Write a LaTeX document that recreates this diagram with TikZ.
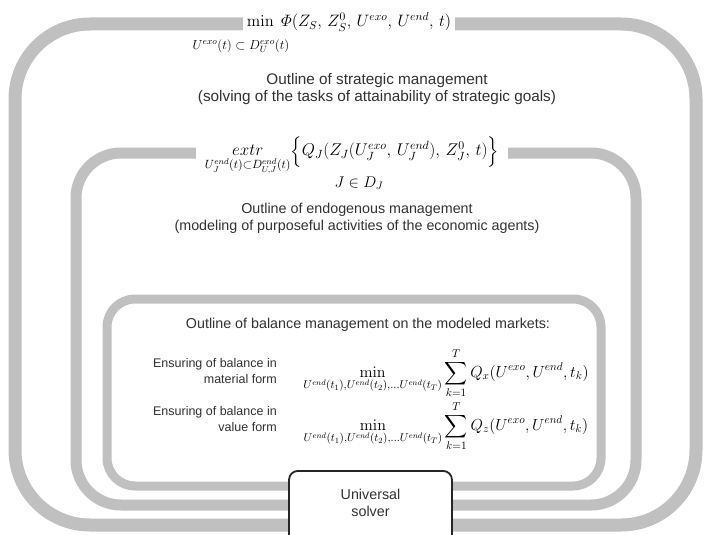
\documentclass[tikz,border=0pt]{standalone}
\usepackage{fix-cm}
\usepackage{amsmath,amssymb}
\usepackage[no-math]{fontspec}
\setmainfont{Liberation Sans}
\usepackage{tikz}
\usetikzlibrary{positioning}
\definecolor{bande}{RGB}{192,192,192}
\definecolor{texte}{RGB}{50,50,50}

\begin{document}
\begin{tikzpicture}[x=1pt, y=-1pt,
    cadre/.style={draw=bande, rounded corners=#1pt},
    frmtitle/.style={fill=white, inner xsep=4pt, inner ysep=1pt},
    outl/.style={align=center, text=texte, font=\fontsize{14.3}{17}\selectfont},
    ens/.style={text=texte, font=\fontsize{12.5}{16}\selectfont, anchor=east, inner sep=0pt},
    solverbox/.style={draw=black!85, line width=1.8pt, rounded corners=9pt, fill=white,
      minimum width=163pt, anchor=north, align=center, inner ysep=0pt,
      text height=46pt, text depth=32pt, text=texte, font=\fontsize{14.3}{17}\selectfont}]
  \clip (0,0) rectangle (704,535);
  \fill[white] (0,0) rectangle (704,535);

  % cadres
  \draw[cadre=75, line width=13pt] (15,24) rectangle (696,525);
  \draw[cadre=45, line width=11pt] (76,153) rectangle (636,505);
  \draw[cadre=28, line width=9pt] (107,299) rectangle (601,486);

  % gestion strategique
  \node[frmtitle, font=\fontsize{16.5}{19}\selectfont] (smin) at (349,22)
    {$\min\;\varPhi(Z_S,\,Z_S^0,\,U^{exo},\,U^{end},\,t)$};
  \node[font=\fontsize{13}{15}\selectfont] (sdom) at (241,46) {$U^{exo}(t)\subset D_U^{exo}(t)$};
  \node[outl, font=\fontsize{15.3}{17}\selectfont] (strat) at (377,89)
    {Outline of strategic management\\(solving of the tasks of attainability of strategic goals)};

  % gestion endogene
  \node[frmtitle, inner xsep=9pt, font=\fontsize{17}{20}\selectfont] (emax) at (352,156)
    {$\mathop{extr}\limits_{U_J^{end}(t)\subset D_{U,J}^{end}(t)}\Bigl\{Q_J(Z_J(U_J^{exo},\,U_J^{end}),\,Z_J^0,\,t)\Bigr\}$};
  \node[font=\fontsize{15.5}{18}\selectfont] (eset) at (359,183) {$J\in D_J$};
  \node[outl] (endo) at (357,218)
    {Outline of endogenous management\\(modeling of purposeful activities of the economic agents)};

  % gestion de l'equilibre
  \node[outl] (bal) at (368,325) {Outline of balance management on the modeled markets:};
  \node[ens] (ens1) at (277,372)
    {\begin{tabular}{@{}r@{}}Ensuring of balance in\\material form\end{tabular}};
  \node[font=\fontsize{16}{19}\selectfont] (bmat) at (446,373)
    {$\displaystyle\min_{U^{end}(t_1),U^{end}(t_2),\dots U^{end}(t_T)}\sum_{k=1}^{T}Q_x(U^{exo},U^{end},t_k)$};
  \node[ens] (ens2) at (277,420)
    {\begin{tabular}{@{}r@{}}Ensuring of balance in\\value form\end{tabular}};
  \node[font=\fontsize{16}{19}\selectfont] (bval) at (446,426)
    {$\displaystyle\min_{U^{end}(t_1),U^{end}(t_2),\dots U^{end}(t_T)}\sum_{k=1}^{T}Q_z(U^{exo},U^{end},t_k)$};

  % solveur
  \node[solverbox] (solver) at (370.5,470) {Universal\\solver};
\end{tikzpicture}
\end{document}
